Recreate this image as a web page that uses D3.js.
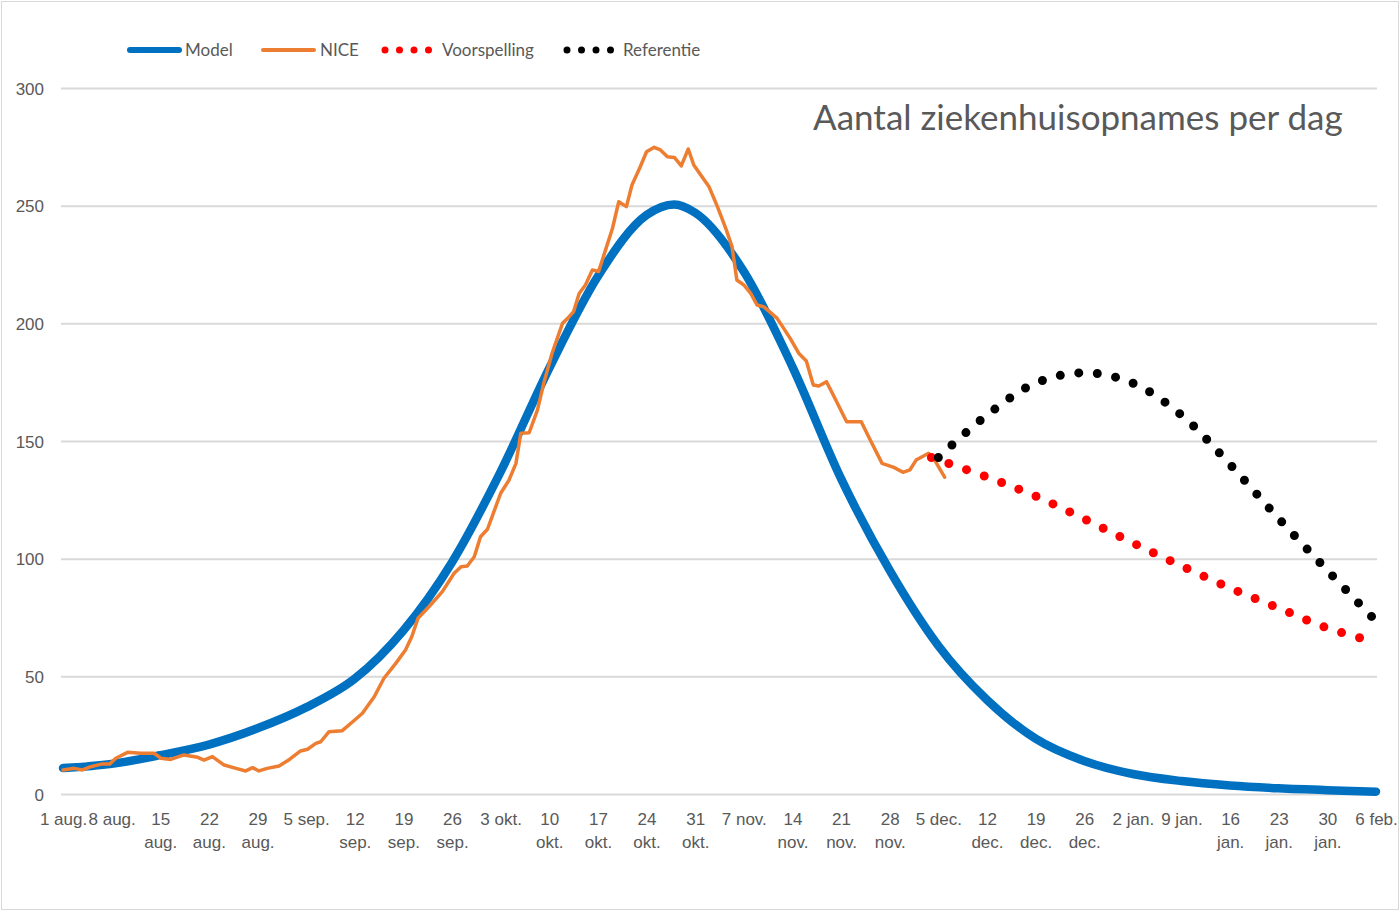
<!DOCTYPE html>
<html>
<head>
<meta charset="utf-8">
<script src="https://cdn.jsdelivr.net/npm/d3@7"></script>
<style>
  body { margin: 0; background: #fff; }
  svg { display: block; font-family: Lato, "Open Sans", sans-serif; }
  .tick text { fill: #595959; font-size: 17px; }
</style>
</head>
<body>
<svg id="chart"></svg>
<script>
// x labels, one per week starting 1 aug.
const xTickLabels = ["1 aug.", "8 aug.", "15 aug.", "22 aug.", "29 aug.", "5 sep.", "12 sep.",
  "19 sep.", "26 sep.", "3 okt.", "10 okt.", "17 okt.", "24 okt.", "31 okt.", "7 nov.",
  "14 nov.", "21 nov.", "28 nov.", "5 dec.", "12 dec.", "19 dec.", "26 dec.", "2 jan.",
  "9 jan.", "16 jan.", "23 jan.", "30 jan.", "6 feb."];
const yTicks = [0, 50, 100, 150, 200, 250, 300];

// Model (days since 1 aug.)
const modelDays = [0, 7, 14, 21, 28, 35, 42, 49, 56, 63, 70, 77, 84, 88, 91, 98, 105, 112, 119, 126,
  133, 140, 147, 154, 161, 168, 175, 182, 189];
const modelValues = [11, 12.8, 16.5, 21, 27.9, 36.8, 49, 69.5, 98.5, 137, 181, 220, 246, 250.5, 247,
  222, 181.5, 134, 95, 63, 40, 23.5, 14, 8.5, 5.5, 3.6, 2.4, 1.6, 1];

// NICE
const niceDays = [0, 1.6, 2.8, 4, 5.5, 6.7, 7.6, 9.3, 11.2, 13.1, 14.1, 15.5, 17.4, 19.4, 20.3, 21.5,
  23.2, 24.9, 26.3, 27.3, 28.2, 29.4, 31.1, 32.6, 34.2, 35.2, 36.4, 37.1, 38.3, 40.2, 41.7, 43.1,
  44.8, 46.2, 47.9, 49.3, 50.2, 51.1, 52.9, 54.6, 56.3, 57.3, 58.2, 59.2, 60.1, 61.1, 63, 64.2,
  65.2, 65.9, 67.1, 68.3, 69.2, 70.4, 71.9, 72.6, 73.5, 74.3, 75.2, 76.2, 77.1, 78.1, 79.1, 80,
  81.1, 81.9, 83, 84, 85.1, 86, 87, 88, 89, 90, 90.8, 91.8, 93, 94.2, 95.4, 96.3, 97, 98, 99, 99.9,
  100.9, 102.8, 104.7, 105.9, 107, 108, 108.8, 109.9, 111, 112.8, 114.9, 116.2, 117.9, 119.6,
  120.9, 121.9, 122.8, 124.6, 125.2, 126.9];
const niceValues = [10.2, 10.9, 10.2, 11.6, 12.7, 12.7, 15.2, 17.7, 17.3, 17.3, 15.2, 14.7, 16.6,
  15.6, 14.4, 15.9, 12.3, 10.9, 9.8, 11.2, 9.8, 10.9, 11.9, 14.7, 18.3, 19, 21.5, 22.2, 26.5, 26.9,
  30.7, 34.3, 41.3, 49.2, 55.5, 61.2, 66.8, 74.7, 80.3, 86, 93.8, 96.6, 96.9, 100.8, 109.3, 112.5,
  127.8, 133.4, 140.5, 153.3, 153.5, 163.2, 174.5, 187.3, 200, 202, 205, 212.7, 216.3, 222.7, 222,
  231.2, 240.4, 251.7, 249.6, 258.8, 265.9, 272.9, 274.8, 273.7, 270.8, 270.5, 266.9, 274.1, 267.3,
  263, 258, 249.6, 240.4, 232.6, 218.4, 216.3, 212.7, 207.8, 207, 202.1, 193.5, 187.3, 184, 173.8,
  173.4, 175.2, 168.8, 158.2, 158.2, 150.4, 140.5, 138.8, 136.7, 137.7, 141.9, 144.8, 143.3, 134.6];

// Voorspelling
const forecastDays = [125, 133, 140, 147, 154, 161, 168, 175, 182, 189];
const forecastValues = [143, 134.7, 126.6, 116.9, 106.7, 96.9, 87.5, 79, 70.5, 64.5];

// Referentie
const referenceDays = [126, 133, 140, 147, 154, 161, 168, 175, 182, 189];
const referenceValues = [143, 161, 174.6, 179, 174.6, 161, 140, 117, 95, 73.5];

const width = 1400;
const height = 912;

const svg = d3.select("#chart")
  .attr("width", width)
  .attr("height", height);

// outer frame
svg.append("rect")
  .attr("x", 1.5).attr("y", 1.5)
  .attr("width", width - 3).attr("height", height - 4)
  .attr("fill", "#fff")
  .attr("stroke", "#d9d9d9");

const x = d3.scaleLinear().domain([0, 189]).range([63, 1376]);
const y = d3.scaleLinear().domain([0, 300]).range([794, 88]);
const gridLeft = 61, gridRight = 1377;

// y axis + gridlines
const yAxis = svg.append("g")
  .attr("transform", `translate(${gridLeft},0)`)
  .call(d3.axisLeft(y).tickValues(yTicks).tickSize(-(gridRight - gridLeft)).tickPadding(17));
yAxis.select(".domain").remove();
yAxis.selectAll(".tick line").attr("stroke", "#d9d9d9").attr("stroke-width", 2);
yAxis.selectAll(".tick text").attr("dy", "0.36em");

// x axis labels
const xAxis = svg.append("g")
  .attr("transform", "translate(0,794)")
  .call(d3.axisBottom(x).tickValues(d3.range(0, 190, 7)).tickSize(0).tickFormat(""));
xAxis.select(".domain").remove();
xAxis.selectAll(".tick").each(function(d, i) {
  const label = xTickLabels[i];
  const parts = label.length > 6 ? label.split(" ") : [label];
  const t = d3.select(this).select("text")
    .attr("y", 0).attr("dy", null);
  parts.forEach((p, j) => {
    t.append("tspan").attr("x", 0).attr("y", 31 + j * 23).text(p);
  });
});

const toPoints = (days, vals) => days.map((d, i) => [x(d), y(vals[i])]);

// Model
svg.append("path")
  .attr("d", d3.line().curve(d3.curveMonotoneX)(toPoints(modelDays, modelValues)))
  .attr("fill", "none")
  .attr("stroke", "#0070c0")
  .attr("stroke-width", 8.5)
  .attr("stroke-linecap", "round")
  .attr("stroke-linejoin", "round");

// NICE
svg.append("path")
  .attr("d", d3.line()(toPoints(niceDays, niceValues)))
  .attr("fill", "none")
  .attr("stroke", "#ed7d31")
  .attr("stroke-width", 3.5)
  .attr("stroke-linecap", "round")
  .attr("stroke-linejoin", "round");

// Voorspelling + Referentie (dotted)
svg.append("path")
  .attr("d", d3.line().curve(d3.curveCatmullRom)(toPoints(forecastDays, forecastValues)))
  .attr("fill", "none")
  .attr("stroke", "#ff0000")
  .attr("stroke-width", 9)
  .attr("stroke-linecap", "round")
  .attr("stroke-dasharray", "0 18.6");

svg.append("path")
  .attr("d", d3.line().curve(d3.curveCatmullRom)(toPoints(referenceDays, referenceValues)))
  .attr("fill", "none")
  .attr("stroke", "#000")
  .attr("stroke-width", 9)
  .attr("stroke-linecap", "round")
  .attr("stroke-dasharray", "0 18.6");

// legend
const legend = svg.append("g").style("font-size", "17px").attr("fill", "#595959");
const legendItems = [
  { name: "Model", x1: 130, x2: 179, color: "#0070c0", w: 6, dash: null, tx: 185 },
  { name: "NICE", x1: 263, x2: 314, color: "#ed7d31", w: 4, dash: null, tx: 320 },
  { name: "Voorspelling", x1: 385, x2: 430, color: "#ff0000", w: 7, dash: "0 14.5", tx: 442 },
  { name: "Referentie", x1: 567, x2: 612, color: "#000", w: 7, dash: "0 14.5", tx: 623 }
];
legendItems.forEach(it => {
  legend.append("line")
    .attr("x1", it.x1).attr("x2", it.x2)
    .attr("y1", 50).attr("y2", 50)
    .attr("stroke", it.color)
    .attr("stroke-width", it.w)
    .attr("stroke-linecap", "round")
    .attr("stroke-dasharray", it.dash);
  legend.append("text")
    .attr("x", it.tx).attr("y", 56)
    .text(it.name);
});

// title
svg.append("text")
  .attr("x", 813)
  .attr("y", 130)
  .attr("fill", "#595959")
  .style("font-size", "35px")
  .text("Aantal ziekenhuisopnames per dag");
</script>
</body>
</html>
